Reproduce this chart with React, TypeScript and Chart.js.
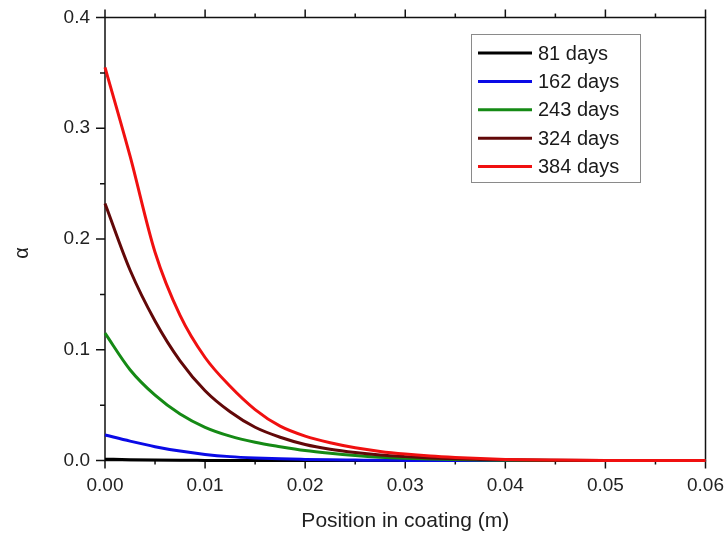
import React, { useEffect, useRef } from 'react';
import { Chart, registerables } from 'chart.js';

Chart.register(...registerables);

const positions = [0, 0.0025, 0.005, 0.0075, 0.01, 0.0125, 0.015, 0.0175, 0.02, 0.0225, 0.025, 0.0275, 0.03, 0.0325, 0.035, 0.0375, 0.04, 0.045, 0.05, 0.055, 0.06];

const days81 = [0.0012, 0.0007, 0.0004, 0.0002, 0.0001, 0, 0, 0, 0, 0, 0, 0, 0, 0, 0, 0, 0, 0, 0, 0, 0];
const days162 = [0.023, 0.0175, 0.0125, 0.0085, 0.0055, 0.0035, 0.0023, 0.0015, 0.001, 0.0006, 0.0004, 0.0002, 0.0001, 0, 0, 0, 0, 0, 0, 0, 0];
const days243 = [0.115, 0.082, 0.059, 0.042, 0.03, 0.022, 0.0165, 0.0125, 0.009, 0.0065, 0.0045, 0.003, 0.002, 0.0013, 0.0008, 0.0005, 0.0003, 0.0001, 0, 0, 0];
const days324 = [0.232, 0.172, 0.126, 0.09, 0.063, 0.044, 0.03, 0.021, 0.0145, 0.0102, 0.0072, 0.005, 0.0035, 0.0023, 0.0015, 0.001, 0.0006, 0.0002, 0, 0, 0];
const days384 = [0.355, 0.275, 0.188, 0.131, 0.093, 0.067, 0.046, 0.031, 0.022, 0.016, 0.0115, 0.0082, 0.0058, 0.004, 0.0027, 0.0017, 0.001, 0.0004, 0.0001, 0, 0];

const seriesLabels = ['81 days', '162 days', '243 days', '324 days', '384 days'];
const seriesColors = ['#000000', '#0a0ae6', '#158a15', '#620808', '#f01010'];
const seriesValues = [days81, days162, days243, days324, days384];

const xTitle = 'Position in coating (m)';
const yTitle = 'α';

const FONT = "'Liberation Sans', Arial, Helvetica, sans-serif";

const framePlugin = {
  id: 'frameTicks',
  beforeDatasetsDraw(chart: any) {
    const { ctx, chartArea } = chart;
    const { left, right, top, bottom } = chartArea;
    const xs = chart.scales.x;
    const ys = chart.scales.y;
    ctx.save();
    ctx.strokeStyle = '#111';
    ctx.lineWidth = 1.5;
    ctx.beginPath();
    ctx.rect(left, top, right - left, bottom - top);
    ctx.stroke();
    ctx.beginPath();
    for (let i = 0; i <= 12; i++) {
      const v = xs.min + ((xs.max - xs.min) * i) / 12;
      const px = xs.getPixelForValue(v);
      const len = i % 2 === 0 ? 8 : 4;
      ctx.moveTo(px, bottom);
      ctx.lineTo(px, bottom + len);
      ctx.moveTo(px, top);
      ctx.lineTo(px, top - len);
    }
    for (let i = 0; i <= 8; i++) {
      const v = ys.min + ((ys.max - ys.min) * i) / 8;
      const py = ys.getPixelForValue(v);
      const len = i % 2 === 0 ? 9 : 5;
      ctx.moveTo(left, py);
      ctx.lineTo(left - len, py);
    }
    ctx.stroke();
    ctx.restore();
  },
  afterDraw(chart: any) {
    const { ctx } = chart;
    ctx.save();
    ctx.translate(22, 253);
    ctx.rotate(-Math.PI / 2);
    ctx.font = `20px ${FONT}`;
    ctx.fillStyle = '#222';
    ctx.textAlign = 'center';
    ctx.textBaseline = 'middle';
    ctx.fillText(yTitle, 0, 0);
    ctx.restore();

    ctx.save();
    const bx = 471, by = 34, bw = 169, bh = 148;
    ctx.fillStyle = '#fff';
    ctx.fillRect(bx, by, bw, bh);
    ctx.strokeStyle = '#8a8a8a';
    ctx.lineWidth = 1;
    ctx.strokeRect(bx + 0.5, by + 0.5, bw, bh);
    ctx.font = `20px ${FONT}`;
    ctx.textBaseline = 'middle';
    ctx.textAlign = 'left';
    chart.data.datasets.forEach((ds: any, i: number) => {
      const cy = by + 19 + i * 28.4;
      ctx.strokeStyle = ds.borderColor;
      ctx.lineWidth = 3;
      ctx.beginPath();
      ctx.moveTo(478, cy);
      ctx.lineTo(532, cy);
      ctx.stroke();
      ctx.fillStyle = '#1a1a1a';
      ctx.fillText(ds.label, 538, cy + 1);
    });
    ctx.restore();
  },
};

export default function App() {
  const canvasRef = useRef<HTMLCanvasElement | null>(null);

  useEffect(() => {
    document.body.style.margin = '0';
    const canvas = canvasRef.current;
    if (!canvas) return;
    const datasets = seriesLabels.map((label, i) => ({
      label,
      data: positions.map((x, j) => ({ x, y: seriesValues[i][j] })),
      borderColor: seriesColors[i],
      backgroundColor: seriesColors[i],
      borderWidth: 3,
      pointRadius: 0,
      cubicInterpolationMode: 'monotone' as const,
      fill: false,
      clip: false as any,
      order: seriesLabels.length - i,
    }));
    const chart = new Chart(canvas, {
      type: 'line',
      data: { datasets },
      options: {
        animation: false,
        responsive: true,
        maintainAspectRatio: false,
        layout: { padding: { top: 17.5, right: 21.5, left: 0, bottom: 0 } },
        plugins: { legend: { display: false }, tooltip: { enabled: false } },
        scales: {
          x: {
            type: 'linear',
            min: 0,
            max: 0.06,
            grid: { display: false, drawTicks: false },
            border: { display: false },
            ticks: {
              stepSize: 0.01,
              padding: 14,
              color: '#222',
              font: { family: FONT, size: 19 },
              callback: (v: any) => Number(v).toFixed(2),
            },
            title: {
              display: true,
              text: xTitle,
              color: '#222',
              font: { family: FONT, size: 21 },
              padding: { top: 0, bottom: 9 },
            },
            afterFit: (s: any) => {
              s.height = 82.5;
              s.paddingLeft = 0;
              s.paddingRight = 0;
            },
          },
          y: {
            type: 'linear',
            min: 0,
            max: 0.4,
            grid: { display: false, drawTicks: false },
            border: { display: false },
            ticks: {
              stepSize: 0.1,
              padding: 15,
              color: '#222',
              font: { family: FONT, size: 19 },
              callback: (v: any) => Number(v).toFixed(1),
            },
            afterFit: (s: any) => {
              s.width = 105;
              s.paddingTop = 0;
              s.paddingBottom = 0;
            },
          },
        },
      },
      plugins: [framePlugin],
    });
    return () => chart.destroy();
  }, []);

  return (
    <div style={{ width: 727, height: 543, position: 'relative' }}>
      <canvas ref={canvasRef} />
    </div>
  );
}
